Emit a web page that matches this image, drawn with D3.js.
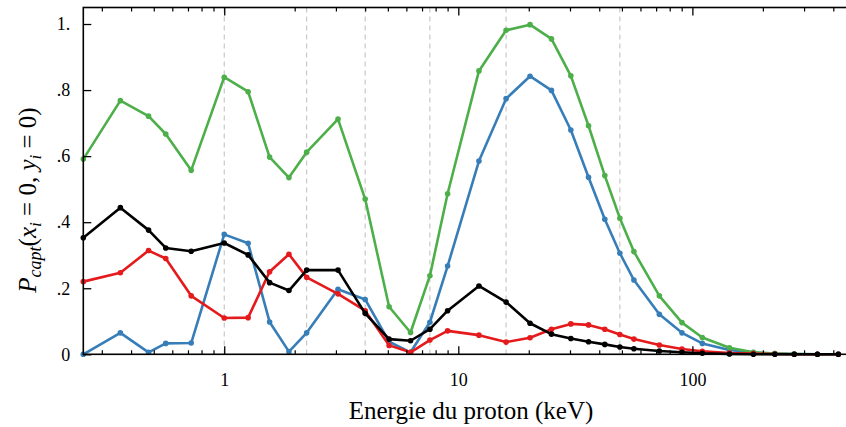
<!DOCTYPE html>
<html><head><meta charset="utf-8">
<script src="https://cdn.jsdelivr.net/npm/d3@7"></script>
<style>body{margin:0;background:#fff}svg{display:block}</style>
</head><body>
<svg id="c" width="846" height="427"></svg>
<script>
const energies = [0.25, 0.36, 0.475, 0.5625, 0.7225, 1, 1.265, 1.5625, 1.89, 2.25, 3.0625, 4, 5.0625, 6.25, 7.5625, 9, 12.25, 16, 20.25, 25, 30.25, 36, 42.25, 49, 56.25, 72.25, 90.25, 110.25, 144, 182.25, 225, 272.25, 342.25, 420.25];
const greenVals = [0.591, 0.768, 0.721, 0.667, 0.557, 0.839, 0.795, 0.597, 0.535, 0.612, 0.712, 0.470, 0.144, 0.066, 0.238, 0.486, 0.858, 0.981, 0.998, 0.955, 0.843, 0.692, 0.541, 0.412, 0.311, 0.177, 0.096, 0.051, 0.020, 0.006, 0.002, 0.001, 0, 0];
const blueVals = [0, 0.065, 0.006, 0.033, 0.034, 0.363, 0.336, 0.098, 0.008, 0.065, 0.197, 0.166, 0.038, 0.006, 0.097, 0.267, 0.585, 0.774, 0.842, 0.799, 0.679, 0.536, 0.409, 0.306, 0.225, 0.121, 0.065, 0.033, 0.013, 0.005, 0.002, 0.001, 0, 0];
const redVals = [0.220, 0.247, 0.314, 0.290, 0.177, 0.110, 0.111, 0.250, 0.303, 0.233, 0.183, 0.132, 0.027, 0.006, 0.043, 0.071, 0.058, 0.037, 0.050, 0.076, 0.092, 0.089, 0.076, 0.060, 0.046, 0.028, 0.016, 0.009, 0.004, 0.002, 0.001, 0, 0, 0];
const blackVals = [0.353, 0.444, 0.376, 0.322, 0.312, 0.337, 0.301, 0.217, 0.193, 0.255, 0.255, 0.124, 0.046, 0.041, 0.076, 0.132, 0.207, 0.158, 0.094, 0.061, 0.048, 0.038, 0.030, 0.022, 0.017, 0.010, 0.006, 0.003, 0.001, 0, 0, 0, 0, 0];
const guideEnergies = [1, 2.25, 4, 7.5625, 16, 49];
const xTickValues = [1, 10, 100];
const xTickLabels = ["1", "10", "100"];
const yTickValues = [0, 0.2, 0.4, 0.6, 0.8, 1];
const yTickLabels = ["0", ".2", ".4", ".6", ".8", "1."];
const seriesList = [
  {name: "blue", values: blueVals, color: "#377eb8"},
  {name: "green", values: greenVals, color: "#4daf4a"},
  {name: "red", values: redVals, color: "#e41a1c"},
  {name: "black", values: blackVals, color: "#000000"}
];

const svg = d3.select("#c");
const font = "Liberation Serif, DejaVu Serif, serif";
const L = 83.3, T = 7.5, B = 354.3;
const x = d3.scaleLog().domain([0.25, 500]).range([L, 856]);
const y = d3.scaleLinear().domain([0, 1.05]).range([B, T]);

// guides
svg.append("g").selectAll("line").data(guideEnergies).join("line")
  .attr("x1", d => x(d)).attr("x2", d => x(d)).attr("y1", T).attr("y2", B)
  .attr("stroke", "#bdbdbd").attr("stroke-width", 1).attr("stroke-dasharray", "5,4");

// series
const line = d3.line().x((d, i) => x(energies[i])).y(d => y(d));
seriesList.forEach(s => {
  const g = svg.append("g");
  g.append("path").datum(s.values).attr("d", line)
    .attr("fill", "none").attr("stroke", s.color).attr("stroke-width", 2.6).attr("stroke-linejoin", "round");
  g.selectAll("circle").data(s.values).join("circle")
    .attr("cx", (d, i) => x(energies[i])).attr("cy", d => y(d)).attr("r", 2.8).attr("fill", s.color);
});

// frame
svg.append("rect").attr("x", L).attr("y", T).attr("width", 900 - L).attr("height", B - T)
  .attr("fill", "none").attr("stroke", "#000").attr("stroke-width", 1.6);

// x ticks (major + minor), bottom and top, inward
const minor = [];
[0.1, 1, 10, 100].forEach(dec => { for (let k = 2; k <= 9; k++) { const v = dec * k; if (v >= 0.25 && v <= 500) minor.push(v); } });
const axB = d3.axisBottom(x).tickValues(xTickValues).tickSizeInner(-8).tickSizeOuter(0).tickFormat((d, i) => xTickLabels[i]).tickPadding(19);
const gB = svg.append("g").attr("transform", `translate(0,${B})`).call(axB);
gB.select(".domain").remove();
gB.attr("font-family", font);
gB.selectAll("text").attr("font-size", 18).attr("fill", "#000");
gB.selectAll("line").attr("stroke-width", 1.3);
svg.append("g").attr("transform", `translate(0,${B})`).call(d3.axisBottom(x).tickValues(minor).tickSizeInner(-4).tickSizeOuter(0).tickFormat(""))
  .call(g => g.select(".domain").remove()).selectAll("line").attr("stroke-width", 1.2);
svg.append("g").attr("transform", `translate(0,${T})`).call(d3.axisTop(x).tickValues(xTickValues).tickSizeInner(-8).tickSizeOuter(0).tickFormat(""))
  .call(g => g.select(".domain").remove()).selectAll("line").attr("stroke-width", 1.3);
svg.append("g").attr("transform", `translate(0,${T})`).call(d3.axisTop(x).tickValues(minor).tickSizeInner(-4).tickSizeOuter(0).tickFormat(""))
  .call(g => g.select(".domain").remove()).selectAll("line").attr("stroke-width", 1.2);

// y ticks
const axL = d3.axisLeft(y).tickValues(yTickValues).tickSizeInner(-8).tickSizeOuter(0).tickFormat((d, i) => yTickLabels[i]).tickPadding(13);
const gL = svg.append("g").attr("transform", `translate(${L},0)`).call(axL);
gL.select(".domain").remove();
gL.attr("font-family", font);
gL.selectAll("text").attr("font-size", 18).attr("fill", "#000");
gL.selectAll("line").attr("stroke-width", 1.3);

// x title
svg.append("text").attr("x", 471).attr("y", 419).attr("text-anchor", "middle")
  .attr("font-family", font)
  .attr("font-size", 25).attr("fill", "#000").text("Energie du proton (keV)");

// y title
const yt = svg.append("text").attr("transform", "translate(36,200) rotate(-90)").attr("text-anchor", "middle")
  .attr("font-family", font)
  .attr("font-size", 25).attr("fill", "#000");
yt.append("tspan").attr("font-style", "italic").text("P");
yt.append("tspan").attr("font-style", "italic").attr("font-size", 18).attr("dy", 5).text("capt");
yt.append("tspan").attr("dy", -5).text("(");
yt.append("tspan").attr("font-style", "italic").text("x");
yt.append("tspan").attr("font-style", "italic").attr("font-size", 17).attr("dy", 5).text("i");
yt.append("tspan").attr("dy", -5).text(" = 0, ");
yt.append("tspan").attr("font-style", "italic").text("y");
yt.append("tspan").attr("font-style", "italic").attr("font-size", 17).attr("dy", 5).text("i");
yt.append("tspan").attr("dy", -5).text(" = 0)");
</script>
</body></html>
